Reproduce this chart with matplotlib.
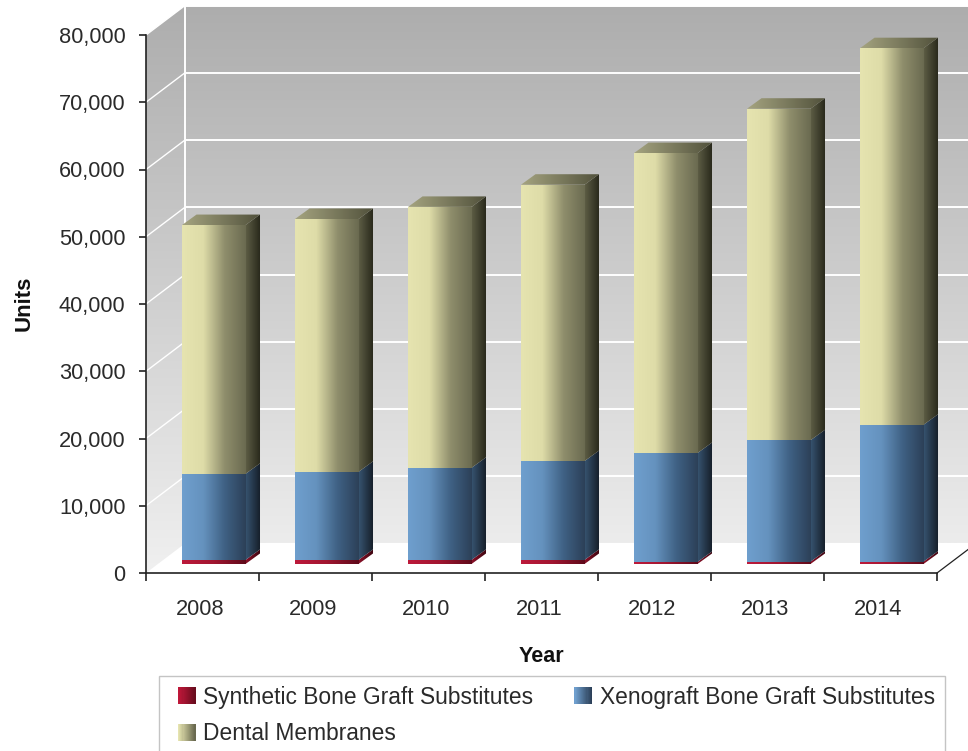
import numpy as np
import matplotlib
matplotlib.use("Agg")
import matplotlib.pyplot as plt
from matplotlib.colors import LinearSegmentedColormap as LSC
from matplotlib.legend_handler import HandlerBase
from matplotlib.patches import Polygon, Rectangle

years = ["2008", "2009", "2010", "2011", "2012", "2013", "2014"]
synthetic = [600, 600, 600, 600, 300, 350, 350]
xenograft = [12800, 13100, 13700, 14700, 16200, 18050, 20350]
dental = [37000, 37600, 38800, 41100, 44600, 49300, 56000]
y_ticks = [0, 10000, 20000, 30000, 40000, 50000, 60000, 70000, 80000]
series_names = ["Synthetic Bone Graft Substitutes", "Xenograft Bone Graft Substitutes", "Dental Membranes"]

W, H = 968, 751
X0, Y0 = 146, 573
PX_CAT = 113.0
PX_UNIT = 6.725 / 1000
DX = 39 / PX_CAT
DY = 29.5 / PX_UNIT
BASE = 9 / PX_UNIT
FRONT = 0.0996
BAR_W = 63.5 / PX_CAT
SIDE_X = 14.5 / PX_CAT
SIDE_Y = 10.5 / PX_UNIT

plt.rcParams["font.family"] = ["Liberation Sans", "DejaVu Sans"]
fig = plt.figure(figsize=(W / 100, H / 100), dpi=100)
ax = fig.add_axes([0, 0, 1, 1])
ax.set_xlim(-X0 / PX_CAT, (W - X0) / PX_CAT)
ax.set_ylim((Y0 - H) / PX_UNIT, Y0 / PX_UNIT)


def gradient(poly, colors, horizontal=True, extent=None, z=2):
    poly = np.asarray(poly, float)
    if extent is None:
        extent = (poly[:, 0].min(), poly[:, 0].max(), poly[:, 1].min(), poly[:, 1].max())
    cmap = LSC.from_list("g", colors)
    t = np.linspace(0, 1, 256)
    arr = t[None, :] if horizontal else t[:, None]
    im = ax.imshow(arr, cmap=cmap, extent=extent, origin="lower", aspect="auto",
                   interpolation="bilinear", zorder=z, vmin=0, vmax=1)
    clip = Polygon(poly, transform=ax.transData, closed=True)
    im.set_clip_path(clip)
    return im


# walls
wall_cols = ["#ececec", "#adadad"]
top = 80000 + DY
gradient([(DX, DY), (8, DY), (8, top), (DX, top)], wall_cols, horizontal=False, z=1)
gradient([(0, 0), (DX, DY), (DX, top), (0, 80000)], ["#f0f0f0", "#adadad"], horizontal=False,
         extent=(0, DX, 0, top), z=1)

# gridlines
for v in y_ticks[1:]:
    ax.plot([DX, 8], [v + DY, v + DY], color="white", lw=1.4, zorder=1.5, solid_capstyle="butt")
    ax.plot([0, DX], [v, v + DY], color="white", lw=1.0, zorder=1.5)
ax.plot([DX, DX], [DY, top], color="white", lw=1.4, zorder=1.5)
ax.plot([7, 7 + DX], [0, DY], color="#222222", lw=0.9, zorder=1.5)

styles = {
    "red": (["#bd1a3b", "#a01530", "#5e0a1a"], ["#8a1028", "#3a0610"], ["#a01530", "#5e0a1a"]),
    "blue": (["#6f9fce", "#6592be", "#3f6184", "#2c4058"], ["#36526e", "#141c26"], ["#4a6f95", "#2c4058"]),
    "yellow": (["#e6e4b0", "#dedca8", "#8f8e6c", "#6a6a50"], ["#5c5c44", "#262619"], ["#a5a480", "#52523c"]),
}

# stacked bars
z = 3.0
for i in range(len(years)):
    bottom = 0.0
    for vals, key in ((synthetic, "red"), (xenograft, "blue"), (dental, "yellow")):
        front_c, side_c, top_c = styles[key]
        x0 = i + 0.5 - BAR_W / 2 + FRONT
        x1 = x0 + BAR_W
        y0 = BASE + bottom
        y1 = y0 + vals[i]
        gradient([(x1, y0), (x1 + SIDE_X, y0 + SIDE_Y), (x1 + SIDE_X, y1 + SIDE_Y), (x1, y1)], side_c, z=z)
        gradient([(x0, y0), (x1, y0), (x1, y1), (x0, y1)], front_c, z=z + 0.1)
        if key == "yellow":
            gradient([(x0, y1), (x1, y1), (x1 + SIDE_X, y1 + SIDE_Y), (x0 + SIDE_X, y1 + SIDE_Y)], top_c, z=z + 0.1)
        bottom += vals[i]
        z += 0.2

# axes
for s in ("top", "right"):
    ax.spines[s].set_visible(False)
ax.spines["left"].set_position(("data", 0))
ax.spines["left"].set_bounds(0, 80000)
ax.spines["bottom"].set_position(("data", 0))
ax.spines["bottom"].set_bounds(0, 7)
for s in ("left", "bottom"):
    ax.spines[s].set_linewidth(1.2)
    ax.spines[s].set_color("#222222")
    ax.spines[s].set_zorder(20)
text_col = "#2a2a2a"
ax.set_yticks(y_ticks)
ax.set_yticklabels([f"{v:,}" for v in y_ticks])
ax.set_xticks(range(8))
ax.set_xticklabels([])
ax.set_xticks([i + 0.478 for i in range(7)], minor=True)
ax.set_xticklabels(years, minor=True)
ax.tick_params(axis="y", length=5.2, width=1.2, direction="out", pad=9.5, labelsize=15.7, labelcolor=text_col, color="#222222")
ax.tick_params(axis="x", which="major", length=6, width=1.2, direction="out", color="#222222")
ax.tick_params(axis="x", which="minor", length=0, pad=18.5, labelsize=15.7, labelcolor=text_col)
ax.set_xlabel("Year", fontsize=15.5, fontweight="bold", color="#111111")
ax.xaxis.set_label_coords(541 / W, 1 - 646 / H)
ax.set_ylabel("Units", fontsize=16, fontweight="bold", color="#111111")
ax.yaxis.set_label_coords(35 / W, 1 - 303 / H)


class GradientHandler(HandlerBase):
    def __init__(self, colors):
        super().__init__()
        self.colors = colors

    def create_artists(self, legend, orig, xd, yd, width, height, fontsize, trans):
        cmap = LSC.from_list("h", self.colors)
        n = 16
        side = 12.5
        out = []
        x = -xd + (width - side)
        y = -yd + (height - side) / 2
        for k in range(n):
            out.append(Rectangle((x + side * k / n, y), side / n + 0.2, side,
                                 facecolor=cmap(k / (n - 1)), edgecolor="none", transform=trans))
        return out


swatches = {
    "red": ["#c0183a", "#6a0c1e"],
    "blue": ["#6f9fce", "#2c4058"],
    "yellow": ["#e6e4b0", "#6a6a50"],
}
h_s = Rectangle((0, 0), 1, 1, label=series_names[0])
h_x = Rectangle((0, 0), 1, 1, label=series_names[1])
h_d = Rectangle((0, 0), 1, 1, label=series_names[2])
leg = ax.legend(handles=[h_s, h_d, h_x], labels=[series_names[0], series_names[2], series_names[1]],
                ncol=2, loc="upper left", bbox_to_anchor=(159 / W, 1 - 676 / H), bbox_transform=fig.transFigure,
                borderaxespad=0, fancybox=False, framealpha=1, edgecolor="#c4c4c4", fontsize=16.4,
                handlelength=1.18, handletextpad=0.35, columnspacing=1.38, labelspacing=0.6,
                borderpad=0.42,
                handler_map={h_s: GradientHandler(swatches["red"]),
                             h_x: GradientHandler(swatches["blue"]),
                             h_d: GradientHandler(swatches["yellow"])})
leg.set_zorder(30)
for t in leg.get_texts():
    t.set_color(text_col)

fig.savefig("out.png", dpi=100, facecolor="white")
